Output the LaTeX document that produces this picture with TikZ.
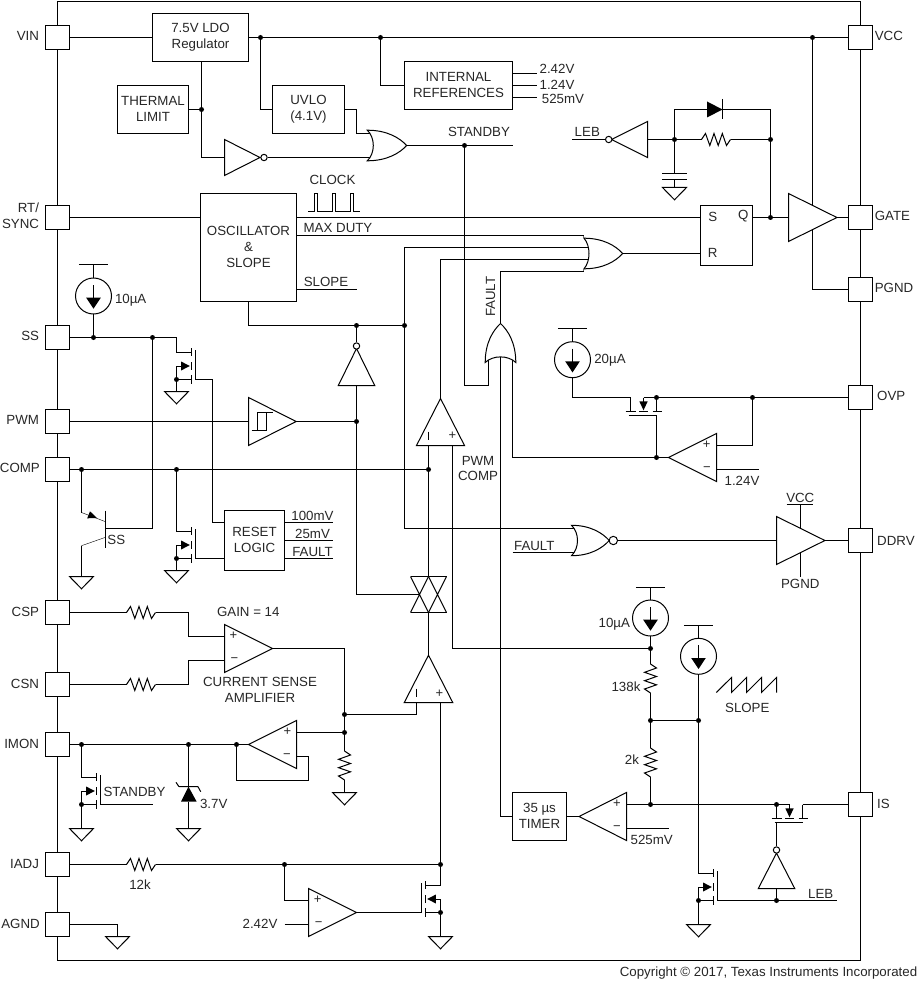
\documentclass[tikz,border=0pt]{standalone}
\usepackage{fontspec}
\setmainfont{Liberation Sans}
\usetikzlibrary{backgrounds}
\definecolor{ink}{HTML}{262626}
\tikzset{
  lab/.style={inner sep=0pt,text=ink,font=\fontsize{13.3}{16}\selectfont},
  signlab/.style={inner sep=0pt,text=ink,font=\fontsize{13}{14}\selectfont},
  blockbox/.style={draw,inner sep=0pt,align=center,text=ink,font=\fontsize{13.3}{16}\selectfont},
  capsbox/.style={blockbox,text depth=2pt},
  pinbox/.style={draw,fill=white,inner sep=0pt,minimum width=24pt,minimum height=24pt},
  bubble/.style={draw,fill=white,circle,inner sep=0pt,minimum size=6.4pt},
  pics/tri/.style 2 args={code={
    \draw[fill=white] (0,-#1) -- (0,#1) -- (#2,0) -- cycle;
    \coordinate (-i) at (0,0);
    \coordinate (-o) at (#2,0);
    \coordinate (-a) at (0,-12);
    \coordinate (-b) at (0,12);
  }},
  pics/orgate/.style n args={3}{code={
    \draw[fill=white] (0,-#2) .. controls (0.5*#1,-#2) and (0.82*#1,-0.5*#2) .. (#1,0)
      .. controls (0.82*#1,0.5*#2) and (0.5*#1,#2) .. (0,#2)
      .. controls (#3/0.75,0.5*#2) and (#3/0.75,-0.5*#2) .. cycle;
    \coordinate (-o) at (#1,0);
    \coordinate (-a) at (5,-12);
    \coordinate (-b) at (5,12);
    \coordinate (-c) at (#3,0);
    \coordinate (-t) at (0,-#2);
    \coordinate (-u) at (0,#2);
  }},
  pics/gnd/.style={code={\draw[fill=white] (-12,0) -- (12,0) -- (0,12.3) -- cycle;}},
  pics/resistor/.style={code={
    \draw (0,0) -- (4,-6) -- (8.3,6) -- (12.5,-6) -- (16.7,6) -- (20.8,-6) -- (25,6) -- (29,0);
    \coordinate (-a) at (0,0);
    \coordinate (-b) at (29,0);
  }},
  pics/mosfet/.style={code={
    \draw (0,0) -- (15,0);
    \draw (15,-4.5) -- (15,3.5) (15,9.5) -- (15,17.5) (15,22.5) -- (15,31.5);
    \draw (19,-2.5) -- (19,27);
    \draw (15,27) -- (0,27) -- (0,13.5) -- (5,13.5);
    \fill (4.6,9) -- (13.3,13.5) -- (4.6,18) -- cycle;
    \fill (0,27) circle (2.5);
    \coordinate (-d) at (0,0);
    \coordinate (-s) at (0,27);
    \coordinate (-g) at (19,27);
  }},
  pics/hmosfet/.style={code={
    \draw (0,0) -- (0,14) (26,0) -- (26,14);
    \draw (-5,14) -- (5,14) (8.5,14) -- (17.5,14) (22,14) -- (31,14);
    \draw (-2,18) -- (26,18);
    \draw (13,0) -- (13,4);
    \fill (8.8,3.8) -- (17.2,3.8) -- (13,12.8) -- cycle;
    \coordinate (-d) at (0,0);
    \coordinate (-s) at (26,0);
    \coordinate (-c) at (13,0);
    \coordinate (-g) at (26,18);
    \coordinate (-h) at (0,18);
  }},
  pics/isource/.style={code={
    \draw (0,0) circle (18);
    \draw (-14.7,-31) -- (14.7,-31) (0,-31) -- (0,-18);
    \draw (0,-11) -- (0,2);
    \fill (-7.3,1.7) -- (7.3,1.7) -- (0,12.7) -- cycle;
    \coordinate (-b) at (0,18);
  }},
  pics/passgate/.style={code={
    \draw (-18,-18) -- (18,-18) (-18,18) -- (18,18);
    \draw (-18,-18) -- (0,18) (0,-18) -- (-18,18);
    \draw (0,-18) -- (18,18) (18,-18) -- (0,18);
    \coordinate (-t) at (0,-18);
    \coordinate (-u) at (0,18);
    \coordinate (-l) at (-9,0);
  }}
}
\begin{document}
\begin{tikzpicture}[x=1pt,y=-1pt,line width=1pt]
\useasboundingbox (0,0) rectangle (919,981);

% package outline and pins
\node[draw,inner sep=0pt,minimum width=803pt,minimum height=959pt] (chip) at (459,481) {};
\node[pinbox] (pvin) at (57.5,37.5) {};
\node[pinbox] (prt) at (57.5,217.5) {};
\node[pinbox] (pss) at (57.5,337.5) {};
\node[pinbox] (ppwm) at (57.5,421.5) {};
\node[pinbox] (pcomp) at (57.5,469.5) {};
\node[pinbox] (pcsp) at (57.5,612.5) {};
\node[pinbox] (pcsn) at (57.5,684.5) {};
\node[pinbox] (pimon) at (57.5,744.5) {};
\node[pinbox] (piadj) at (57.5,864.5) {};
\node[pinbox] (pagnd) at (57.5,924.5) {};
\node[pinbox] (pvcc) at (860.5,37.5) {};
\node[pinbox] (pgate) at (860.5,217.5) {};
\node[pinbox] (ppgnd) at (860.5,289.5) {};
\node[pinbox] (povp) at (860.5,397.5) {};
\node[pinbox] (pddrv) at (860.5,540.5) {};
\node[pinbox] (pis) at (860.5,804.5) {};

% pin names
\node[lab,anchor=east] (tvin) at (39.5,36) {VIN};
\node[lab,anchor=east] (trt) at (39.5,208) {RT/};
\node[lab,anchor=east] (tsync) at (39.5,224) {SYNC};
\node[lab,anchor=east] (tss) at (39.5,336) {SS};
\node[lab,anchor=east] (tpwm) at (39.5,420) {PWM};
\node[lab,anchor=east] (tcomp) at (40.3,468) {COMP};
\node[lab,anchor=east] (tcsp) at (39.5,612) {CSP};
\node[lab,anchor=east] (tcsn) at (39.5,684) {CSN};
\node[lab,anchor=east] (timon) at (39.5,744) {IMON};
\node[lab,anchor=east] (tiadj) at (39.5,864) {IADJ};
\node[lab,anchor=east] (tagnd) at (40.3,924) {AGND};
\node[lab,anchor=west] (tvcc) at (874.3,36) {VCC};
\node[lab,anchor=west] (tgate) at (874.3,216) {GATE};
\node[lab,anchor=west] (tpgnd) at (874.3,288) {PGND};
\node[lab,anchor=west] (tovp) at (876.7,396) {OVP};
\node[lab,anchor=west] (tddrv) at (876.7,541) {DDRV};
\node[lab,anchor=west] (tis) at (876.7,804) {IS};

% function blocks
\node[blockbox,minimum width=96pt,minimum height=48pt] (ldo) at (200.5,37.5) {7.5V LDO\\Regulator};
\node[capsbox,minimum width=71pt,minimum height=48pt] (therm) at (153,109.5) {THERMAL\\LIMIT};
\node[blockbox,minimum width=72pt,minimum height=48pt] (uvlo) at (308.5,109.5) {UVLO\\(4.1V)};
\node[capsbox,minimum width=108pt,minimum height=48pt] (iref) at (458.5,85.5) {INTERNAL\\REFERENCES};
\node[capsbox,minimum width=96pt,minimum height=108pt] (osc) at (248.5,247.5) {OSCILLATOR\\\&\\SLOPE};
\node[blockbox,minimum width=52pt,minimum height=60pt] (sr) at (726.5,235.5) {};
\node[capsbox,minimum width=60pt,minimum height=60pt] (rst) at (254.5,540.5) {RESET\\LOGIC};
\node[capsbox,minimum width=54pt,minimum height=48pt] (tmr) at (539.5,816.5) {35 µs\\TIMER};

% gates, amplifiers and drivers
\pic (inv1) at (224.5,157.5) {tri={18}{35.5}};
\node[bubble] (b1) at (264,157.5) {};
\pic (or1) at (367.3,145.5) {orgate={39.4}{15.3}{6}};
\pic[rotate=180] (inv3) at (647.5,139.5) {tri={18}{36}};
\node[bubble] (b4) at (608.7,139.5) {};
\pic (buf) at (788.5,217.5) {tri={24}{48.4}};
\pic (or2) at (584,253.5) {orgate={38.7}{15.3}{5}};
\pic[rotate=90] (or3) at (500.5,362.5) {orgate={39}{15.3}{5.6}};
\pic[rotate=90] (inv2) at (356.5,385.5) {tri={18.2}{37}};
\node[bubble] (b2) at (356.5,346) {};
\pic (hyst) at (248.5,421.5) {tri={24}{47.7}};
\pic[rotate=90] (cmp1) at (440.5,445.5) {tri={24}{47}};
\pic[rotate=90] (cmp2) at (428.5,702.5) {tri={24.2}{47.3}};
\pic[rotate=180] (cmp3) at (716.5,457.5) {tri={24}{48}};
\pic (nor) at (571.5,540.5) {orgate={37.7}{15.2}{6}};
\node[bubble,minimum size=8.4pt] (b3) at (613.3,540.5) {};
\pic (drv) at (776.5,540.5) {tri={24}{48.4}};
\pic (csamp) at (224.5,648.5) {tri={24}{48}};
\pic[rotate=180] (fol) at (296.5,744.5) {tri={24}{48}};
\pic (amp4) at (308.5,912.5) {tri={24}{48}};
\pic[rotate=180] (tamp) at (626.5,816.5) {tri={24}{47.4}};
\pic[rotate=90] (inv4) at (776.5,888.5) {tri={18.2}{35.4}};
\node[bubble] (b5) at (776.5,850) {};
\pic (tg) at (428.5,594.5) {passgate};

% transistors, current sources, resistors
\pic (mos1) at (176.5,352.5) {mosfet};
\pic (mos2) at (176.5,531.5) {mosfet};
\pic (mos4) at (81.5,777.5) {mosfet};
\pic (mos5) at (698.5,873.5) {mosfet};
\pic[xscale=-1] (mos3) at (440.5,885.5) {mosfet};
\pic (hm1) at (630.5,397.5) {hmosfet};
\pic (hm2) at (776.5,804.5) {hmosfet};
\pic (s1) at (93.5,296) {isource};
\pic (s2) at (572.5,359.7) {isource};
\pic (s3) at (650.5,618) {isource};
\pic (s4) at (698.5,656.3) {isource};
\pic (r1) at (701.5,139.5) {resistor};
\pic (r3) at (126.5,612.5) {resistor};
\pic (r4) at (126.5,684.5) {resistor};
\pic[rotate=-90] (r5) at (344.5,751) {resistor};
\pic (r6) at (126.5,864.5) {resistor};
\pic[rotate=-90] (r7) at (650.5,664) {resistor};
\pic[rotate=-90] (r8) at (650.5,748) {resistor};

% grounds
\pic at (674.5,187.5) {gnd};
\pic at (176.5,391.5) {gnd};
\pic at (176.5,570.5) {gnd};
\pic at (81.5,576.5) {gnd};
\pic at (344.5,792.5) {gnd};
\pic at (81.5,828.5) {gnd};
\pic at (188.5,828.5) {gnd};
\pic at (117.5,936.5) {gnd};
\pic at (440.5,936.5) {gnd};
\pic at (698.5,924.5) {gnd};

% net junctions and routing points
\coordinate (jt1) at (260.5,37.5);
\coordinate (jt2) at (380.5,37.5);
\coordinate (jvcc) at (812.5,37.5);
\coordinate (jtherm) at (201.5,109.5);
\coordinate (jstby) at (464.5,145.5);
\coordinate (stbyout) at (512.5,145.5);
\coordinate (jleb) at (674.5,139.5);
\coordinate (jq) at (770.5,139.5);
\coordinate (jgate) at (770.5,217.5);
\coordinate (josc1) at (356.5,325.5);
\coordinate (josc2) at (404.5,325.5);
\coordinate (jss1) at (93.5,337.5);
\coordinate (jss2) at (152.5,337.5);
\coordinate (jpwm) at (356.5,421.5);
\coordinate (jc1) at (81.5,469.5);
\coordinate (jc2) at (176.5,469.5);
\coordinate (jc3) at (428.5,469.5);
\coordinate (jo1) at (656.5,397.5);
\coordinate (jo2) at (752.5,397.5);
\coordinate (jfb) at (656.5,457.5);
\coordinate (jcs1) at (344.5,714.5);
\coordinate (jcs2) at (344.5,732.5);
\coordinate (jim1) at (81.5,744.5);
\coordinate (jim2) at (188.5,744.5);
\coordinate (jim3) at (236.5,744.5);
\coordinate (jia1) at (284.5,864.5);
\coordinate (jia2) at (440.5,864.5);
\coordinate (jr1) at (650.5,648.5);
\coordinate (jr2) at (650.5,720.5);
\coordinate (jr3) at (698.5,720.5);
\coordinate (jr4) at (650.5,804.5);
\coordinate (jis) at (776.5,804.5);
\coordinate (jl2) at (776.5,900.5);

\coordinate (ref1a) at (537.3,73.5);
\coordinate (ref2a) at (537.3,85.5);
\coordinate (ref3a) at (537.3,97.5);
\coordinate (lebin) at (572.3,139.5);
\coordinate (da) at (707,109.5);
\coordinate (dc) at (722.5,109.5);
\coordinate (capa) at (674.5,173.5);
\coordinate (capb) at (674.5,179.5);
\coordinate (capg) at (674.5,187.5);
\coordinate (srs) at (700.5,217.5);
\coordinate (orb1) at (583.5,235.5);
\coordinate (orb2) at (589,247.5);
\coordinate (orb3) at (589,259.5);
\coordinate (orb4) at (583.5,271.5);
\coordinate (slopeout) at (356.5,289.5);
\coordinate (stb) at (464.5,385.5);
\coordinate (c2) at (212.5,379.5);
\coordinate (rsta) at (224.5,522.5);
\coordinate (pnpb) at (105.5,528.5);
\coordinate (pnpe0) at (81.5,512.5);
\coordinate (pnpe) at (105.5,521.7);
\coordinate (pnpc) at (105.5,537.3);
\coordinate (pnpc0) at (81.5,545.7);
\coordinate (pnpg) at (81.5,576.5);
\coordinate (rout1) at (332.5,522.5);
\coordinate (rout2) at (332.5,540.5);
\coordinate (rout3) at (332.5,558.5);
\coordinate (c4) at (188.5,612.5);
\coordinate (c6) at (188.5,684.5);
\coordinate (c7) at (308.5,780.5);
\coordinate (stby2) at (153,804.5);
\coordinate (zb) at (188.5,801.7);
\coordinate (zt) at (188.5,786.7);
\coordinate (ziner) at (188.5,828.5);
\coordinate (in242) at (284.5,924.5);
\coordinate (agnd) at (117.5,936.5);
\coordinate (flt) at (512.5,552.5);
\coordinate (vccs) at (800.5,504.5);
\coordinate (pgs) at (800.5,576.5);
\coordinate (r124) at (758.5,469.5);
\coordinate (r525) at (668.5,828.5);
\coordinate (lebend) at (836.5,900.5);

% wiring, kept beneath the symbols
\begin{scope}[on background layer]
\draw (pvin.east) -- (ldo.west);
\draw (ldo.east) -- (pvcc.west);
\draw (jt1) |- (uvlo.west);
\draw (jt2) |- (iref.west);
\draw (iref.east |- ref1a) -- (ref1a);
\draw (iref.east) -- (ref2a);
\draw (iref.east |- ref3a) -- (ref3a);
\draw (ldo.south -| jtherm) -- (jtherm) |- (inv1-i);
\draw (therm.east) -- (jtherm);
\draw (inv1-o) -- (b1.west);
\draw (b1.east) -- (or1-b);
\draw (uvlo.east) -| (356.5,133.5) -- (or1-a);
\draw (or1-o) -- (stbyout);
\draw (jstby) -- (stb) -| (or3-a);
\draw (lebin) -- (b4.west);
\draw (inv3-i) -- (jleb) -- (r1-a);
\draw (r1-b) -- (jq);
\draw (jleb) |- (da);
\draw (dc) -| (jq);
\draw (jq) -- (jgate);
\draw (jleb) -- (capa);
\draw (capb) -- (capg);
\draw (prt.east) -- (prt.east -| osc.west);
\draw (osc.east |- srs) -- (srs);
\draw (osc.east |- orb1) -- (orb1);
\draw (orb1) -- (or2-t);
\draw (josc2) |- (orb2);
\draw (cmp1-o) |- (orb3);
\draw (or3-o) |- (orb4);
\draw (orb4) -- (or2-u);
\draw (or2-o) -- (sr.west |- or2-o);
\draw (sr.east |- jgate) -- (buf-i);
\draw (buf-o) -- (pgate.west);
\draw (jvcc) -- (812.5,217.5) |- (ppgnd.west);
\draw (osc.east |- slopeout) -- (slopeout);
\draw (osc.south) |- (josc2);
\draw (josc1) -- (b2.north);
\draw (inv2-i) -- (jpwm);
\draw (jpwm) |- (tg-l);
\draw (pss.east) -| (mos1-d);
\draw (s1-b) -- (jss1);
\draw (mos1-s) -- (176.5,391.5);
\draw (mos1-g) -- (c2) |- (rsta);
\draw (jss2) |- (pnpb);
\draw (ppwm.east) -- (hyst-i);
\draw (hyst-o) -- (jpwm);
\draw (pcomp.east) -- (jc3);
\draw (jc1) -- (pnpe0);
\draw (pnpe0) -- (pnpe);
\draw (pnpc) -- (pnpc0);
\draw (pnpc0) -- (pnpg);
\draw (jc2) -- (mos2-d);
\draw (mos2-s) -- (176.5,570.5);
\draw (mos2-g) -- (mos2-g -| rst.west);
\draw (rst.east |- rout1) -- (rout1);
\draw (rst.east) -- (rout2);
\draw (rst.east |- rout3) -- (rout3);
\draw (cmp1-a) -- (tg-t);
\draw (tg-u) -- (cmp2-o);
\draw (cmp2-a) |- (jcs1);
\draw (cmp2-b) -- (jia2) -- (mos3-d);
\draw (cmp1-b) |- (jr1);
\draw (pcsp.east) -- (r3-a);
\draw (pcsn.east) -- (r4-a);
\draw (r3-b) -- (c4) |- (csamp-a);
\draw (r4-b) -- (c6) |- (csamp-b);
\draw (csamp-o) -| (jcs1) -- (jcs2) -- (r5-a);
\draw (r5-b) -- (344.5,792.5);
\draw (pimon.east) -- (fol-o);
\draw (fol-b) -- (jcs2);
\draw (fol-a) -| (c7) -| (jim3);
\draw (jim1) -- (mos4-d);
\draw (mos4-s) -- (81.5,828.5);
\draw (mos4-g) -- (stby2);
\draw (jim2) -- (zt);
\draw (zb) -- (ziner);
\draw (piadj.east) -- (r6-a);
\draw (r6-b) -- (jia2);
\draw (jia1) |- (amp4-a);
\draw (in242) -- (amp4-b);
\draw (amp4-o) -- (mos3-g);
\draw (mos3-s) -- (440.5,936.5);
\draw (pagnd.east) -| (agnd);
\draw (s2-b) |- (hm1-d);
\draw (hm1-c) -- (povp.west);
\draw (hm1-g) -- (jfb) -- (cmp3-o);
\draw (or3-b) |- (jfb);
\draw (cmp3-b) -| (jo2);
\draw (cmp3-a) -- (r124);
\draw (josc2) |- (nor-a);
\draw (flt) -- (nor-b);
\draw (b3.east) -- (drv-i);
\draw (drv-o) -- (pddrv.west);
\draw (vccs) -- (800.5,540.5) -- (pgs);
\draw (s3-b) -- (jr1) -- (r7-a);
\draw (r7-b) -- (jr2) -- (r8-a);
\draw (r8-b) -- (jr4);
\draw (jr2) -- (jr3);
\draw (s4-b) -- (jr3) -- (mos5-d);
\draw (mos5-s) -- (698.5,924.5);
\draw (mos5-g) -- (lebend);
\draw (inv4-i) -- (jl2);
\draw (b5.north) -- (hm2-h);
\draw (tamp-b) -- (hm2-c);
\draw (hm2-s) -- (pis.west);
\draw (tamp-a) -- (r525);
\draw (tamp-o) -- (tmr.east);
\draw (or3-c) |- (tmr.west);
\end{scope}

% small symbols drawn directly
\fill (707,101.5) -- (722.5,109.5) -- (707,117.5) -- cycle;
\draw (722.5,99) -- (722.5,118.7);
\draw (662,173.5) -- (686.7,173.5) (662,179.5) -- (686.7,179.5);
\draw (308.3,211.5) -- (314.5,211.5) -- (314.5,193.5) -- (317.5,193.5) -- (317.5,211.5)
      -- (332.5,211.5) -- (332.5,193.5) -- (335.5,193.5) -- (335.5,211.5)
      -- (350.5,211.5) -- (350.5,193.5) -- (353.5,193.5) -- (353.5,211.5) -- (359.7,211.5);
\draw (251.7,430.5) -- (266.5,430.5) -- (266.5,412.5) (257.5,430.5) -- (257.5,412.5) -- (272.7,412.5);
\draw (105.5,510.7) -- (105.5,547.7);
\fill (87.2,518.3) -- (97,518) -- (90,511.3) -- cycle;
\draw (179,786.7) -- (198,786.7) (176,782.3) -- (179,786.7) (198,786.7) -- (200.7,791.7);
\fill (188.5,786.7) -- (196.7,801.7) -- (181,801.7) -- cycle;
\draw (786.7,504.5) -- (813.3,504.5);
\draw (716.3,692.5) -- (731.5,677.5) -- (731.5,692.5) -- (746.5,677.5) -- (746.5,692.5)
      -- (761.5,677.5) -- (761.5,692.5) -- (776.5,677.5) -- (776.5,692.5);
\draw (428.5,431.7) -- (428.5,440);
\draw (416.5,688.7) -- (416.5,697);

% junction dots
\foreach \j in {jt1,jt2,jvcc,jtherm,jstby,jleb,jq,jgate,josc1,josc2,jss1,jss2,jpwm,jc1,jc2,jc3,
                jo1,jo2,jfb,jcs1,jcs2,jim1,jim2,jim3,jia1,jia2,jr1,jr2,jr3,jr4,jis,jl2}
  \fill (\j) circle (2.5);

% signal labels
\node[lab] (l1) at (557,69) {2.42V};
\node[lab] (l2) at (557,84.5) {1.24V};
\node[lab] (l3) at (563,99) {525mV};
\node[lab] (l4) at (479,132) {STANDBY};
\node[lab] (l5) at (587.3,132) {LEB};
\node[lab] (l6) at (332.5,180) {CLOCK};
\node[lab] (l7) at (338,228) {MAX DUTY};
\node[lab] (l8) at (326,282) {SLOPE};
\node[lab] (l9) at (130.7,300) {10µA};
\node[lab] (l10) at (712.7,217) {S};
\node[lab] (l11) at (712.7,253) {R};
\node[lab] (l12) at (743.3,216.5) {Q};
\node[lab,rotate=90] (l13) at (490.7,296.7) {FAULT};
\node[lab] (l14) at (610,360) {20µA};
\node[lab] (l15) at (742,480.5) {1.24V};
\node[lab] (l16) at (478,460.5) {PWM};
\node[lab] (l17) at (478,476) {COMP};
\node[lab] (l18) at (116.3,540) {SS};
\node[lab] (l19) at (312.5,516) {100mV};
\node[lab] (l20) at (312.5,534) {25mV};
\node[lab] (l21) at (312.5,552) {FAULT};
\node[lab] (l22) at (534.3,546) {FAULT};
\node[lab] (l23) at (800.3,498) {VCC};
\node[lab] (l24) at (800.3,584) {PGND};
\node[lab] (l25) at (248.3,612.3) {GAIN = 14};
\node[lab] (l26) at (260,682) {CURRENT SENSE};
\node[lab] (l27) at (260,698) {AMPLIFIER};
\node[lab] (l28) at (614.3,624) {10µA};
\node[lab] (l29) at (626,687) {138k};
\node[lab] (l30) at (632,759.5) {2k};
\node[lab] (l31) at (747.3,708) {SLOPE};
\node[lab] (l32) at (134.5,792) {STANDBY};
\node[lab] (l33) at (213.7,804) {3.7V};
\node[lab] (l34) at (140,885) {12k};
\node[lab] (l35) at (260,924) {2.42V};
\node[lab] (l36) at (651.7,840) {525mV};
\node[lab] (l37) at (820.7,894) {LEB};
\node[lab,anchor=east] (l38) at (917.7,972.7) {Copyright © 2017, Texas Instruments Incorporated};

% amplifier input signs
\node[signlab] (p1) at (452.3,435.6) {+};
\node[signlab] (p2) at (439.3,693.7) {+};
\node[signlab] (p3) at (706.7,444.3) {+};
\node[signlab] (m3) at (707,469) {−};
\node[signlab] (p4) at (233.3,636) {+};
\node[signlab] (m4) at (234.5,660) {−};
\node[signlab] (p5) at (287.3,732) {+};
\node[signlab] (m5) at (287,756) {−};
\node[signlab] (p6) at (317.7,900) {+};
\node[signlab] (m6) at (318.7,924) {−};
\node[signlab] (p7) at (617,804) {+};
\node[signlab] (m7) at (617,828) {−};
\end{tikzpicture}
\end{document}
